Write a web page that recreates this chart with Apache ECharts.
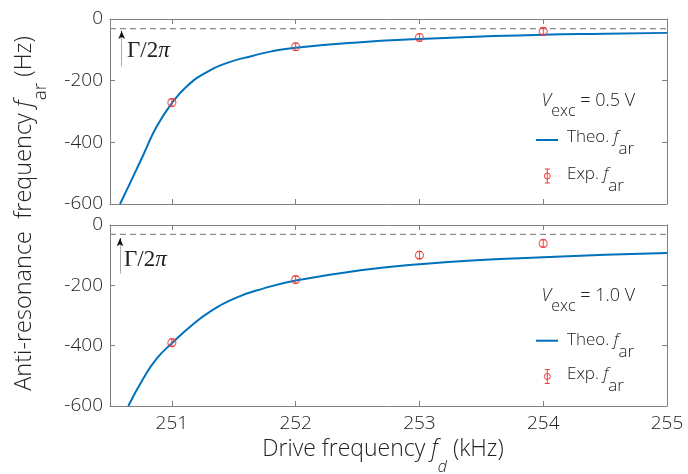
<!DOCTYPE html>
<html>
<head>
<meta charset="utf-8">
<script src="https://cdn.jsdelivr.net/npm/echarts@6/dist/echarts.min.js"></script>
<style>
html,body{margin:0;padding:0;background:#fff;}
#chart{width:688px;height:474px;}
</style>
</head>
<body>
<div id="chart"></div>
<script>
// ---------- data ----------
const xTicks = [251, 252, 253, 254, 255];
const yTicks = [0, -200, -400, -600];
const expFreq = [251, 252, 253, 254];
const expTop = [-271, -90, -60, -40];
const expBottom = [-390, -181, -100, -61];
const expErr = [12, 12, 12, 12];
const theoFreqTop = [250.581, 250.661, 250.769, 250.877, 251.003, 251.119, 251.253, 251.441, 251.656, 251.804, 252.0, 252.5, 253.0, 253.5, 254.0, 254.5, 255.0];
const theoTop = [-600, -533, -441, -349, -271, -219, -179, -143, -119, -105, -93, -76, -65, -57, -51, -48, -45];
const theoFreqBottom = [250.648, 250.769, 250.877, 251.0, 251.145, 251.306, 251.522, 251.736, 252.0, 252.54, 253.0, 253.49, 254.0, 254.5, 255.0];
const theoBottom = [-600, -509, -443, -392, -338, -288, -241, -211, -184, -149, -130, -116, -107, -99, -93];
const gammaLevel = -31;
const arrowTop = [250.594, -154, -39];
const arrowBottom = [250.581, -161, -44];
const vexcLabels = ['0.5 V', '1.0 V'];
const legendNames = ['Theo. ', 'Exp. '];
const xMin = 250.5, xMax = 255, yMin = -600, yMax = 0;

// ---------- styles ----------
const FONT = "'Open Sans', 'Noto Sans', sans-serif";
const SERIF = "'Liberation Serif', 'DejaVu Serif', serif";
const TXT = '#222';
const FRAME = '#808080';
const BLUE = '#0072BD';
const RED = '#f03c3c';

function xAx(gi, pos, labels) {
  return {
    type: 'value', gridIndex: gi, position: pos, min: xMin, max: xMax,
    axisLine: { show: true, onZero: false, lineStyle: { color: FRAME, width: 1 } },
    axisTick: { show: true, inside: true, length: 5, customValues: xTicks, lineStyle: { color: FRAME } },
    axisLabel: { show: labels, customValues: xTicks, color: TXT, fontSize: 19, fontFamily: FONT, fontWeight: 300, margin: 8 },
    splitLine: { show: false }
  };
}
function yAx(gi, pos, labels) {
  return {
    type: 'value', gridIndex: gi, position: pos, min: yMin, max: yMax, interval: 200,
    axisLine: { show: true, onZero: false, lineStyle: { color: FRAME, width: 1 } },
    axisTick: { show: true, inside: true, length: 5, lineStyle: { color: FRAME } },
    axisLabel: { show: labels, color: TXT, fontSize: 19, fontFamily: FONT, fontWeight: 300, margin: 7, showMinLabel: true, showMaxLabel: true },
    splitLine: { show: false }
  };
}

function errRender(params, api) {
  const x = api.value(0), y = api.value(1), e = api.value(2);
  const p1 = api.coord([x, y + e]);
  const p2 = api.coord([x, y - e]);
  const w = 2.5;
  const st = { stroke: RED, lineWidth: 1 };
  return {
    type: 'group',
    children: [
      { type: 'line', shape: { x1: p1[0], y1: p1[1], x2: p2[0], y2: p2[1] }, style: st },
      { type: 'line', shape: { x1: p1[0] - w, y1: p1[1], x2: p1[0] + w, y2: p1[1] }, style: st },
      { type: 'line', shape: { x1: p2[0] - w, y1: p2[1], x2: p2[0] + w, y2: p2[1] }, style: st }
    ]
  };
}

function panelSeries(xi, yi, tX, tY, eY, arrow) {
  return [
    {
      type: 'line', xAxisIndex: xi, yAxisIndex: yi, silent: true,
      data: [[xMin, gammaLevel], [xMax, gammaLevel]], symbol: 'none',
      lineStyle: { color: '#8c8c8c', width: 1.2, type: [6, 4] }, z: 1,
      markLine: {
        silent: true, symbol: ['none', 'none'], label: { show: false },
        data: [
          [{ coord: [arrow[0], arrow[1]], lineStyle: { color: '#aaaaaa', width: 1, type: 'solid' } },
           { coord: [arrow[0], arrow[2] - 8] }],
          [{ coord: [arrow[0], arrow[2] - 14], lineStyle: { color: '#111', width: 1, type: 'solid' } },
           { coord: [arrow[0], arrow[2]], symbol: 'arrow', symbolSize: [5, 8] }]
        ]
      }
    },
    {
      type: 'line', xAxisIndex: xi, yAxisIndex: yi, silent: true,
      data: tX.map((x, i) => [x, tY[i]]), symbol: 'none', smooth: 0.5,
      lineStyle: { color: BLUE, width: 2 }, z: 3
    },
    {
      type: 'custom', xAxisIndex: xi, yAxisIndex: yi, silent: true,
      data: expFreq.map((x, i) => [x, eY[i], expErr[i]]),
      encode: { x: 0, y: 1 }, renderItem: errRender, z: 4
    },
    {
      type: 'scatter', xAxisIndex: xi, yAxisIndex: yi, silent: true,
      data: expFreq.map((x, i) => [x, eY[i]]), symbol: 'circle', symbolSize: 8,
      itemStyle: { color: 'rgba(0,0,0,0)', borderColor: RED, borderWidth: 1.2 }, z: 5
    }
  ];
}

const richLegend = {
  n: { fontSize: 17, fontFamily: FONT, fontWeight: 300, fill: TXT, lineHeight: 41 },
  i: { fontSize: 17, fontFamily: FONT, fontWeight: 300, fontStyle: 'italic', fill: TXT, lineHeight: 41 },
  s: { fontSize: 17, fontFamily: FONT, fontWeight: 300, fill: TXT, lineHeight: 17, verticalAlign: 'bottom' }
};
const richV = {
  v: { fontSize: 18, fontFamily: FONT, fontWeight: 300, fontStyle: 'italic', fill: TXT, lineHeight: 36 },
  s: { fontSize: 16, fontFamily: FONT, fontWeight: 300, fill: TXT, lineHeight: 16, verticalAlign: 'bottom' },
  n: { fontSize: 18, fontFamily: FONT, fontWeight: 300, fill: TXT, lineHeight: 36 }
};
const richGamma = {
  g: { fontSize: 23, fontFamily: SERIF, fill: '#222' },
  p: { fontSize: 23, fontFamily: SERIF, fontStyle: 'italic', fill: '#222' }
};

function legendGraphic(vexc, yV, yTheo, yTheoLine, yExp) {
  const ex = 547.3;
  const st = { stroke: RED, lineWidth: 1 };
  return [
    { type: 'text', x: 541.5, y: yV, style: { text: '{v|V}{s|exc}{n| = ' + vexc + '}', rich: richV, align: 'left', verticalAlign: 'middle' } },
    { type: 'line', shape: { x1: 536, y1: yTheoLine, x2: 558, y2: yTheoLine }, style: { stroke: BLUE, lineWidth: 2 } },
    { type: 'text', x: 567, y: yTheo, style: { text: '{n|' + legendNames[0] + '}{i|f}{s|ar}', rich: richLegend, align: 'left', verticalAlign: 'middle' } },
    { type: 'line', shape: { x1: ex, y1: yExp - 6.5, x2: ex, y2: yExp + 7.5 }, style: st },
    { type: 'line', shape: { x1: ex - 2.5, y1: yExp - 6.5, x2: ex + 2.5, y2: yExp - 6.5 }, style: st },
    { type: 'line', shape: { x1: ex - 2.5, y1: yExp + 7.5, x2: ex + 2.5, y2: yExp + 7.5 }, style: st },
    { type: 'circle', shape: { cx: ex, cy: yExp + 0.5, r: 3 }, style: { stroke: RED, fill: 'none', lineWidth: 1 } },
    { type: 'text', x: 567, y: yExp - 1.4, style: { text: '{n|' + legendNames[1] + '}{i|f}{s|ar}', rich: richLegend, align: 'left', verticalAlign: 'middle' } }
  ];
}

const chart = echarts.init(document.getElementById('chart'), null, { renderer: 'canvas' });
chart.setOption({
  animation: false,
  backgroundColor: '#fff',
  grid: [
    { left: 110, right: 21, top: 19, height: 185, containLabel: false },
    { left: 110, right: 21, top: 225, height: 181, containLabel: false }
  ],
  xAxis: [xAx(0, 'bottom', false), xAx(0, 'top', false), xAx(1, 'bottom', true), xAx(1, 'top', false)],
  yAxis: [yAx(0, 'left', true), yAx(0, 'right', false), yAx(1, 'left', true), yAx(1, 'right', false)],
  series: [].concat(
    panelSeries(0, 0, theoFreqTop, theoTop, expTop, arrowTop),
    panelSeries(2, 2, theoFreqBottom, theoBottom, expBottom, arrowBottom)
  ),
  graphic: [].concat(
    [
      { type: 'text', x: 127, y: 50.5, style: { text: '{g|\u0393/2}{p|\u03c0}', rich: richGamma, align: 'left', verticalAlign: 'middle' } },
      { type: 'text', x: 124, y: 259.5, style: { text: '{g|\u0393/2}{p|\u03c0}', rich: richGamma, align: 'left', verticalAlign: 'middle' } },
      { type: 'text', x: 24.5, y: 213.5, rotation: Math.PI / 2,
        style: { text: '{n|Anti-resonance  frequency }{i|f}{s|ar}{n| (Hz)}', align: 'center', verticalAlign: 'middle',
          rich: {
            n: { fontSize: 23.5, fontFamily: FONT, fontWeight: 300, fill: TXT, lineHeight: 50.5 },
            i: { fontSize: 23.5, fontFamily: FONT, fontWeight: 300, fontStyle: 'italic', fill: TXT, lineHeight: 50.5 },
            s: { fontSize: 19, fontFamily: FONT, fontWeight: 300, fill: TXT, lineHeight: 19, verticalAlign: 'bottom' }
          } } },
      { type: 'text', x: 383, y: 449.4,
        style: { text: '{n|Drive frequency }{i|f}{s|d}{n| (kHz)}', align: 'center', verticalAlign: 'middle',
          rich: {
            n: { fontSize: 23, fontFamily: FONT, fontWeight: 300, fill: TXT, lineHeight: 51.4 },
            i: { fontSize: 23, fontFamily: FONT, fontWeight: 300, fontStyle: 'italic', fill: TXT, lineHeight: 51.4 },
            s: { fontSize: 16, fontFamily: FONT, fontWeight: 300, fontStyle: 'italic', fill: TXT, lineHeight: 16, verticalAlign: 'bottom' }
          } } }
    ],
    legendGraphic(vexcLabels[0], 101.3, 137.4, 140, 175.5),
    legendGraphic(vexcLabels[1], 296.3, 340.1, 340.7, 376)
  )
});
</script>
</body>
</html>
